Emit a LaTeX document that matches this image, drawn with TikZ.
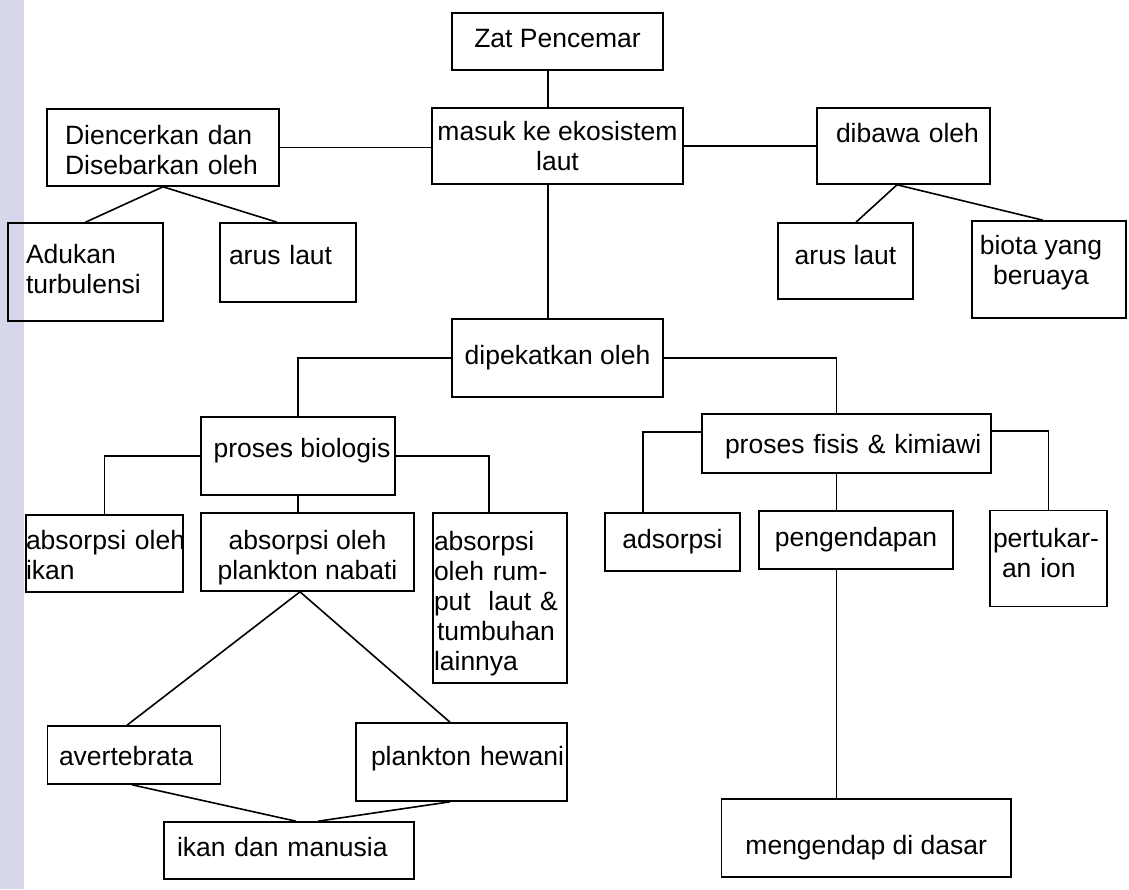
\documentclass[tikz,border=0pt]{standalone}
\usepackage{fontspec}
\setmainfont{Liberation Sans}
\usetikzlibrary{calc}
\newcommand\ls{\rule[-9pt]{0pt}{30pt}}
\newcommand\hi[1]{\rule{0pt}{#1pt}}
\newcommand\lo[1]{\rule[-#1pt]{0pt}{#1pt}}
\definecolor{stripc}{RGB}{214,215,234}
\begin{document}
\begin{tikzpicture}[x=1pt,y=-1pt,
  box/.style={draw, line width=1.6pt, inner sep=0pt, font=\fontsize{26.5}{30}\selectfont, align=center},
  lbox/.style={box, align=left, text width=#1},
  conn/.style={line width=1.6pt}]
\useasboundingbox (0,0) rectangle (1129,889);
\fill[stripc] (0,0) rectangle (24,889);

\node[box,minimum width=211pt,minimum height=57pt] (zat) at (557.5,41.5) {\ls Zat Pencemar};
\node[box,minimum width=251pt,minimum height=76pt] (masuk) at (557.5,146) {\hi{27}\ls masuk ke ekosistem\\\ls laut};
\node[lbox=196pt,minimum width=232pt,minimum height=77pt] (dien) at (163,147.5) {\mbox{\hi{33}\ls Diencerkan dan}\\\mbox{\ls Disebarkan oleh}};
\node[lbox=119pt,minimum width=155pt,minimum height=98pt] (aduk) at (85.5,272) {\mbox{\ls Adukan}\\\mbox{\ls turbulensi}};
\node[lbox=118pt,minimum width=136pt,minimum height=79pt] (arusL) at (288,262.5) {\mbox{\ls\lo{17}arus laut}};
\node[box,minimum width=135pt,minimum height=76pt] (arusR) at (845.5,261) {\ls\lo{15}arus laut};
\node[box,minimum width=154pt,minimum height=97pt] (biota) at (1049,269.5) {\ls biota yang\rule{16pt}{0pt}\\\ls\lo{21}beruaya\rule{16pt}{0pt}};
\node[lbox=135pt,minimum width=173pt,minimum height=76pt] (dibawa) at (903.5,146) {\mbox{\ls\lo{29}dibawa oleh}};
\node[box,minimum width=211pt,minimum height=78pt] (dipek) at (557.5,358) {\ls dipekatkan oleh};
\node[box,minimum width=194pt,minimum height=78pt] (bio) at (298,456) {\rule{8pt}{0pt}\ls\lo{19}proses biologis};
\node[lbox=243pt,minimum width=289pt,minimum height=59pt] (fisis) at (846.5,443.5) {\mbox{\hi{29}\ls proses fisis \& kimiawi}};
\node[lbox=157pt,minimum width=157pt,minimum height=77pt] (ikanabs) at (104.5,553.5) {\mbox{\hi{31}\ls absorpsi oleh}\\\mbox{\ls ikan}};
\node[box,minimum width=213pt,minimum height=78pt] (nabati) at (307.5,552) {\hi{33}\ls absorpsi oleh\\\ls plankton nabati};
\node[lbox=132pt,minimum width=134pt,minimum height=170pt] (rumput) at (500,598) {\mbox{\hi{33}\ls absorpsi}\\\mbox{\ls oleh rum-}\\\mbox{\ls put\ \ laut \&}\\\mbox{\ls\hspace*{3pt}tumbuhan}\\\mbox{\ls lainnya}};
\node[box,minimum width=135pt,minimum height=58pt] (adsorp) at (672.5,542) {\ls adsorpsi};
\node[box,minimum width=194pt,minimum height=58pt] (pengend) at (856,540) {\ls pengendapan};
\node[lbox=111pt,minimum width=117pt,minimum height=96pt] (pertuk) at (1048.5,558.5) {\mbox{\ls pertukar-}\\\mbox{\ls\lo{13}\hspace*{9pt}an ion}};
\node[lbox=150pt,minimum width=173pt,minimum height=58pt] (avert) at (134,755) {\mbox{\hi{29}\ls avertebrata}};
\node[lbox=181pt,minimum width=211pt,minimum height=78pt] (hewani) at (461.5,762) {\mbox{\ls\lo{15}plankton hewani}};
\node[lbox=224pt,minimum width=250pt,minimum height=57pt] (ikan) at (289,850.5) {\mbox{\ls ikan dan manusia}};
\node[box,minimum width=289.5pt,minimum height=78pt] (mengend) at (866.25,838) {\hi{41}\ls mengendap di dasar};

\coordinate (vx) at (548,0);
\coordinate (vr) at (836.5,0);
\draw[conn] (zat.south -| vx) -- (masuk.north -| vx);
\draw[conn] (masuk.south -| vx) -- (dipek.north -| vx);
\draw[conn] (dien.east) -- (dien.east -| masuk.west);
\draw[conn] (masuk.east) -- (dibawa.west);
\draw[conn] (dien.south) -- (aduk.north);
\draw[conn] (dien.south) -- ($(arusL.north)+(-11,0)$);
\draw[conn] ($(dibawa.south)+(-6.5,0)$) -- ($(arusR.north)+(10.5,0)$);
\draw[conn] ($(dibawa.south)+(-6.5,0)$) -- ($(biota.north)+(-6,0)$);
\draw[conn] (dipek.west) -| (bio.north);
\draw[conn] (dipek.east) -| (vr |- fisis.north);
\draw[conn] (bio.west) -| (ikanabs.north);
\draw[conn] (bio.east) -| ($(rumput.north west)+(57,0)$);
\draw[conn] (bio.south) -- (bio.south |- nabati.north);
\draw[conn] ($(nabati.south)+(-7.5,0)$) -- ($(avert.north)+(-7,0)$);
\draw[conn] ($(nabati.south)+(-7.5,0)$) -- ($(hewani.north)+(-11.5,0)$);
\draw[conn] ($(avert.south)+(-2,0)$) -- ($(ikan.north)+(7,0)$);
\draw[conn] ($(hewani.south)+(-11.5,0)$) -- ($(ikan.north)+(29,0)$);
\draw[conn] ($(fisis.north west)+(0,19)$) -| ($(adsorp.north west)+(39,0)$);
\draw[conn] ($(fisis.north east)+(0,18)$) -| (pertuk.north);
\draw[conn] (fisis.south -| vr) -- (pengend.north -| vr);
\draw[conn] (pengend.south -| vr) -- (mengend.north -| vr);
\end{tikzpicture}
\end{document}
